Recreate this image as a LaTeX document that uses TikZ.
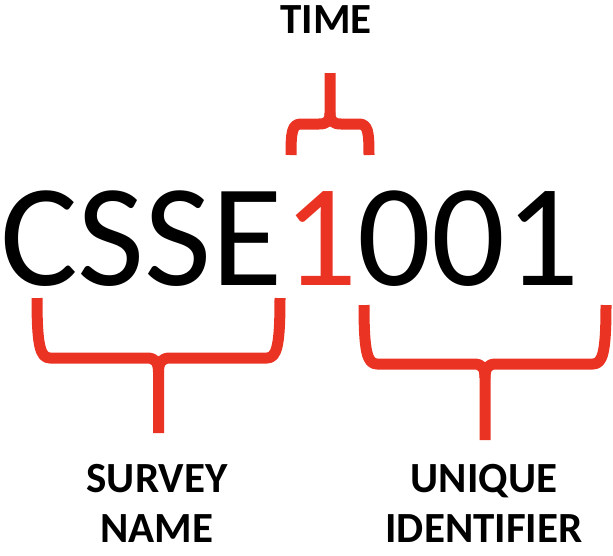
\documentclass[tikz,border=0pt]{standalone}
\usepackage{fontspec}
\setmainfont{Carlito}
\definecolor{bracered}{RGB}{234,51,35}
\tikzset{
  bigtxt/.style={inner sep=0pt, outer sep=0pt, font=\fontsize{146}{146}\selectfont},
  lbl/.style={inner sep=0pt, align=center, font=\bfseries\fontsize{43}{50}\selectfont},
  brace/.style={draw=bracered, line width=11pt, line cap=butt, line join=round}
}
\begin{document}
\begin{tikzpicture}[x=1pt, y=-1pt]
  \useasboundingbox (0,0) rectangle (613,555);
  % code
  \node[bigtxt, anchor=base west] (survey) at (0,285) {CSSE};
  \node[bigtxt, anchor=base west, text=bracered] (time) at (survey.base east) {1};
  \node[bigtxt, anchor=base west] (ident) at (time.base east) {001};
  % labels
  \node[lbl, anchor=base] (timelbl) at (326,33) {TIME};
  \node[lbl, anchor=base] (surveylbl) at (157,542) {SURVEY\\NAME};
  \node[lbl, anchor=base] (identlbl) at (484,542) {UNIQUE\\IDENTIFIER};
  % top brace
  \draw[brace] (291,155) .. controls (291,132) and (292,124) .. (301,124)
    -- (319,124) .. controls (327,124) and (330,121) .. (330,113) -- (330,73);
  \draw[brace] (369,155) .. controls (369,132) and (368,124) .. (359,124)
    -- (341,124) .. controls (333,124) and (330,121) .. (330,113);
  % survey brace
  \draw[brace] (37,298) .. controls (37,345) and (40,358) .. (50,358)
    -- (147,358) .. controls (155,358) and (158.5,362) .. (158.5,372) -- (158.5,433);
  \draw[brace] (280,298) .. controls (280,345) and (277,358) .. (267,358)
    -- (170,358) .. controls (162,358) and (158.5,362) .. (158.5,372);
  % identifier brace
  \draw[brace] (364,305) .. controls (364,351) and (367,364) .. (377,364)
    -- (474,364) .. controls (482,364) and (485,368) .. (485,378) -- (485,440);
  \draw[brace] (606,305) .. controls (606,351) and (603,364) .. (593,364)
    -- (496,364) .. controls (488,364) and (485,368) .. (485,378);
\end{tikzpicture}
\end{document}
